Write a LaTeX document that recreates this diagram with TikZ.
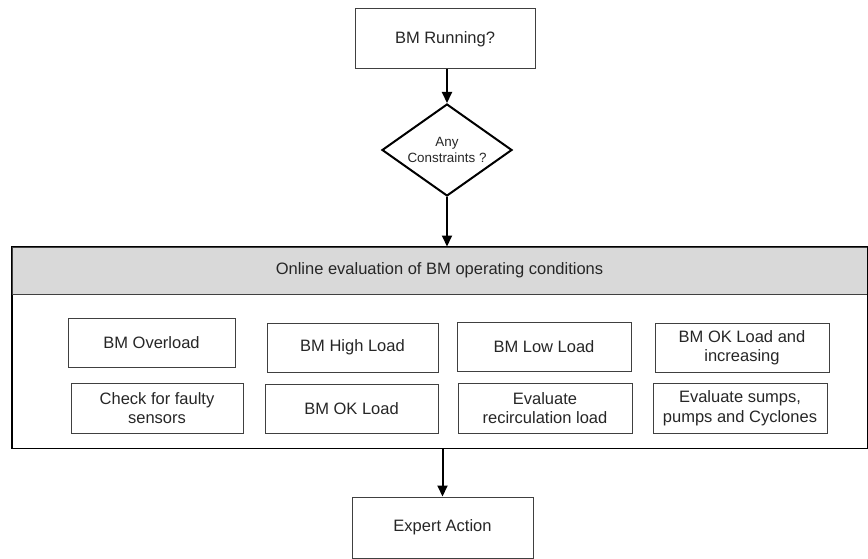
\documentclass[tikz,border=0pt]{standalone}
\usepackage{fontspec}
\setmainfont{Liberation Sans}
\usetikzlibrary{shapes.geometric,arrows.meta}
\begin{document}
\begin{tikzpicture}[x=1pt,y=-1pt,
    box/.style = {draw=black!75, line width=1pt, align=center, inner sep=2pt,
                  text=black!85, font=\fontsize{16.5}{19.5}\selectfont},
    decision/.style = {draw=black, line width=2pt, diamond, aspect=1.4, inner sep=0pt,
                  align=center, text=black!85, font=\fontsize{13.4}{16.5}\selectfont,
                  minimum width=130pt, minimum height=92pt},
    flow/.style = {line width=2pt, -{Triangle[width=10pt,length=11pt]}}]
    \useasboundingbox (0,0) rectangle (868,559);

    \node[box, minimum width=180pt, minimum height=60pt] (run) at (445,39) {BM Running?};
    \node[decision] (constr) at (447,150) {Any\\Constraints ?};

    % evaluation panel
    \node[box, draw=black, minimum width=855pt, minimum height=201pt] (panel) at (439.5,347.5) {};
    \node[box, fill=gray!30, minimum width=855pt, minimum height=47pt] (hdr) at (439.5,270.5)
        {Online evaluation of BM operating conditions};
    \draw[black, line width=1pt] (panel.north west) rectangle (panel.south east);

    \node[box, minimum width=167pt, minimum height=49pt] (overload) at (151.5,342.5) {BM Overload};
    \node[box, minimum width=171pt, minimum height=49pt] (high) at (352.5,347.5) {BM High Load};
    \node[box, minimum width=174pt, minimum height=49pt] (low) at (544,346.5) {BM Low Load};
    \node[box, minimum width=174pt, minimum height=49pt] (okinc) at (742,347.5) {BM OK Load and\\increasing};
    \node[box, minimum width=172pt, minimum height=50pt] (faulty) at (157,408) {Check for faulty\\sensors};
    \node[box, minimum width=173pt, minimum height=49pt] (ok) at (351.5,408.5) {BM OK Load};
    \node[box, minimum width=174pt, minimum height=50pt] (recirc) at (545,408) {Evaluate\\recirculation load};
    \node[box, minimum width=174pt, minimum height=50pt] (sumps) at (740,408) {Evaluate sumps,\\pumps and Cyclones};

    \node[box, minimum width=181pt, minimum height=61pt] (action) at (442.5,527.5) {Expert Action};

    \draw[flow] (run.south -| constr.north) -- (constr.north);
    \draw[flow] (constr.south) -- (constr.south |- hdr.north);
    \draw[flow] (action.north |- panel.south) -- (action.north);
\end{tikzpicture}
\end{document}
